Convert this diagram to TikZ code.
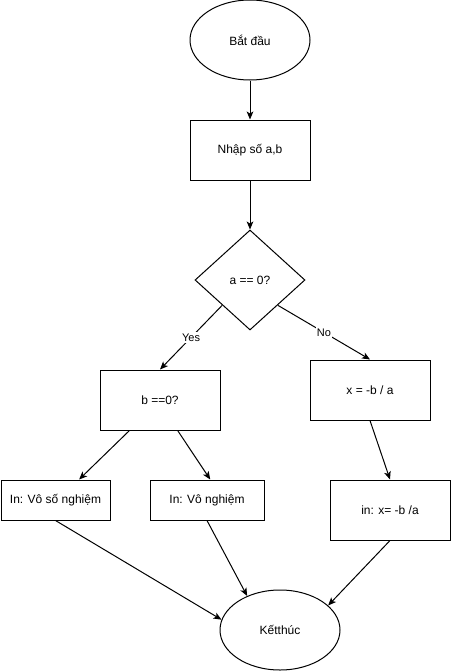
\documentclass[tikz,border=0pt]{standalone}
\usepackage{fontspec}
\setmainfont{Liberation Sans}
\usetikzlibrary{shapes.geometric,arrows.meta,positioning}

\begin{document}
\begin{tikzpicture}[
    x=0.75pt, y=-0.75pt, line width=0.75pt,
    every node/.style={font=\fontsize{9pt}{11pt}\selectfont},
    termnode/.style={ellipse, draw, minimum width=90pt, minimum height=60pt, inner sep=0pt},
    procbox/.style={rectangle, draw, minimum width=90pt, minimum height=45pt, inner sep=0pt},
    decnode/.style={diamond, draw, minimum width=82.5pt, minimum height=75pt, inner sep=0pt},
    flow/.style={draw, -{Stealth[length=6pt, width=5pt, inset=1.5pt]}},
    edgelbl/.style={fill=white, inner sep=1pt, font=\fontsize{8.25pt}{10pt}\selectfont}
]
    \useasboundingbox (0,0) rectangle (451,671);

    % Start and input
    \node[termnode] (start) at (250,40) {Bắt đầu};
    \node[procbox] (input) at (250,150) {Nhập số a,b};
    \node[decnode] (testa) at (250,280) {a == 0?};

    % Branches
    \node[procbox] (testb) at (160,400) {b ==0?};
    \node[procbox] (solve) at (370,390) {x = -b / a};
    \node[procbox, minimum width=81.75pt, minimum height=30pt] (many) at (55.5,500) {In: Vô số nghiệm};
    \node[procbox, minimum width=85.5pt, minimum height=30pt] (none) at (207,500) {In: Vô nghiệm};
    \node[procbox] (print) at (390,510) {in: x= -b /a};

    % End
    \node[termnode] (stop) at (280,630) {Kếtthúc};

    \draw[flow] (start) -- (input);
    \draw[flow] (input) -- (testa);
    \draw[flow] (testa.south west) -- node[edgelbl] {Yes} (testb.north);
    \draw[flow] (testa.south east) -- node[edgelbl] {No} (solve.north);
    \draw[flow] (testb.225) -- (many.41);
    \draw[flow] (testb.300) -- (none.81);
    \draw[flow] (solve.south) -- (print.north);
    \draw[flow] (many.south) -- (stop.170);
    \draw[flow] (none.south) -- (stop.134);
    \draw[flow] (print.south) -- (stop.27);
\end{tikzpicture}
\end{document}
